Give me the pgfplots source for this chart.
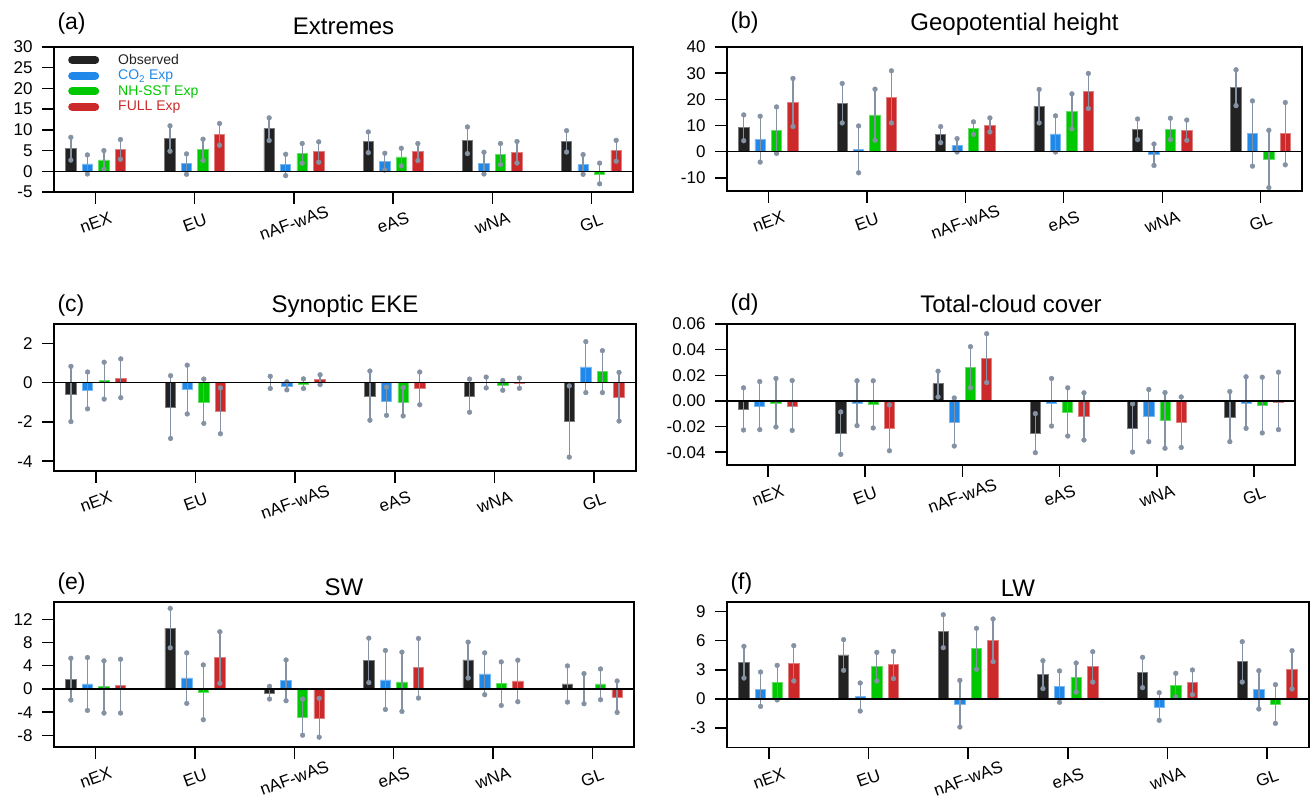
\documentclass[border=0pt]{standalone}
\usepackage{fontspec}
\setmainfont{Liberation Sans}
\usepackage{pgfplots}
\pgfplotsset{compat=1.18}
\definecolor{cK}{HTML}{222222}
\definecolor{cB}{HTML}{1F88E8}
\definecolor{cG}{HTML}{00C800}
\definecolor{cR}{HTML}{CC2A2A}
\definecolor{cE}{HTML}{8492A4}
\newcommand{\tfont}{\fontsize{24bp}{27bp}\selectfont}
\newcommand{\lfont}{\fontsize{23bp}{26bp}\selectfont}
\pgfplotsset{
  panel/.style={
    scale only axis, xmin=-0.42, xmax=5.42,
    xtick={0,1,2,3,4,5}, xticklabels={nEX,EU,nAF-wAS,eAS,wNA,GL},
    xtick pos=bottom, ytick pos=left, tick align=outside,
    major tick length=12bp,
    every tick/.style={black, line width=1.4bp},
    axis line style={line width=1.8bp},
    /pgf/number format/assume math mode=true,
    yticklabel style={font=\fontsize{17bp}{20bp}\selectfont, xshift=-6bp},
    xticklabel style={font=\fontsize{17bp}{20bp}\selectfont, anchor=center, yshift=-19bp, rotate=20},
  },
  errs/.style={/pgfplots/error bars/.cd, y dir=both, y explicit,
    error bar style={cE, line width=1.3bp}, error mark=*,
    error mark options={cE, fill=cE, mark size=2.4bp}},
  sK/.style={/pgfplots/legend image code/.code={\draw[line width=8bp, line cap=round, cK] (0bp,0bp) -- (23bp,0bp);},
    ybar, bar width=0.105, bar shift=0, fill=cK, draw=cK!60!white, line width=0.8bp, errs},
  sB/.style={/pgfplots/legend image code/.code={\draw[line width=8bp, line cap=round, cB] (0bp,0bp) -- (23bp,0bp);},
    ybar, bar width=0.105, bar shift=0, fill=cB, draw=cB!60!white, line width=0.8bp, errs},
  sG/.style={/pgfplots/legend image code/.code={\draw[line width=8bp, line cap=round, cG] (0bp,0bp) -- (23bp,0bp);},
    ybar, bar width=0.105, bar shift=0, fill=cG, draw=cG!60!white, line width=0.8bp, errs},
  sR/.style={/pgfplots/legend image code/.code={\draw[line width=8bp, line cap=round, cR] (0bp,0bp) -- (23bp,0bp);},
    ybar, bar width=0.105, bar shift=0, fill=cR, draw=cR!60!white, line width=0.8bp, errs},
  table/tK/.style={x expr=\coordindex-0.25, y index=0, y error plus index=1, y error minus index=2, header=false},
  table/tB/.style={x expr=\coordindex-0.0833, y index=0, y error plus index=1, y error minus index=2, header=false},
  table/tG/.style={x expr=\coordindex+0.0833, y index=0, y error plus index=1, y error minus index=2, header=false},
  table/tR/.style={x expr=\coordindex+0.25, y index=0, y error plus index=1, y error minus index=2, header=false},
}
\begin{document}
\begin{tikzpicture}
\useasboundingbox (0bp,0bp) rectangle (1310bp,797bp);

% ---------------- (a) Extremes   columns: value, plus, minus
\begin{axis}[panel, name=a, at={(54bp,605bp)}, anchor=south west, width=579bp, height=145bp,
  ymin=-5, ymax=30, ytick={-5,0,5,10,15,20,25,30},
  legend cell align=left,
  legend style={at={(0,1)}, anchor=north west, xshift=14bp, yshift=-7bp, draw=none, fill=none,
    inner sep=0pt, row sep=4.3bp, column sep=19bp, font=\fontsize{14bp}{16bp}\selectfont,
    nodes={inner sep=0pt}}]
\addplot[sK] table[tK] {
5.56 2.64 2.86
7.98 2.99 3.14
10.24 2.66 2.82
7.1 2.4 2.6
7.42 3.28 3.15
7.2 2.6 2.55
};
\addlegendentry{\textcolor{cK}{Observed}}
\addplot[sB] table[tB] {
1.77 2.18 2.42
1.85 2.34 2.58
1.6 2.5 2.65
2.34 2.01 2.04
1.94 2.66 2.59
1.6 2.43 2.33
};
\addlegendentry{\textcolor{cB}{CO\textsubscript{2} Exp}}
\addplot[sG] table[tG] {
2.74 2.26 2.26
5.24 2.5 2.66
4.35 2.35 2.41
3.47 2.09 2.17
4.03 2.67 2.43
-0.65 2.62 2.38
};
\addlegendentry{\textcolor{cG}{NH-SST Exp}}
\addplot[sR] table[tR] {
5.24 2.42 2.34
8.87 2.66 2.58
4.68 2.42 2.5
4.68 2.02 2.1
4.44 2.76 2.44
4.92 2.55 2.5
};
\addlegendentry{\textcolor{cR}{FULL Exp}}
\draw[black, line width=1.3bp] (axis cs:-0.42,0) -- (axis cs:5.42,0);
\end{axis}
\node[anchor=base west, font=\lfont] at ([yshift=17bp]a.north west) {(a)};
\node[anchor=base, font=\tfont] at ([yshift=12bp]a.north) {Extremes};

% ---------------- (b) Geopotential height
\begin{axis}[panel, name=b, at={(727bp,606bp)}, anchor=south west, width=575bp, height=144bp,
  ymin=-15, ymax=40, ytick={-10,0,10,20,30,40}]
\addplot[sK] table[tK] {
9.33 4.73 5.13
18.5 7.57 7.5
6.5 3.1 3.05
17.4 6.4 6.4
8.56 3.94 3.96
24.5 6.8 6.9
};
\addplot[sB] table[tB] {
4.73 8.82 8.69
0.9 8.94 8.95
2.43 2.57 2.53
6.77 6.93 6.87
-1.15 4.09 4.09
6.9 12.5 12.4
};
\addplot[sG] table[tG] {
8.18 8.92 8.82
14.06 9.84 9.71
8.95 2.45 2.3
15.3 6.8 6.6
8.56 4.24 3.96
-3.07 11.25 10.63
};
\addplot[sR] table[tR] {
18.9 9.1 9.3
20.8 10.1 9.8
10.1 2.8 2.56
23.1 6.8 6.6
8.18 3.92 3.83
6.9 11.9 11.9
};
\draw[black, line width=1.3bp] (axis cs:-0.42,0) -- (axis cs:5.42,0);
\end{axis}
\node[anchor=base west, font=\lfont] at ([yshift=18.5bp]b.north west) {(b)};
\node[anchor=base, font=\tfont] at ([yshift=16bp]b.north) {Geopotential height};

% ---------------- (c) Synoptic EKE
\begin{axis}[panel, name=c, at={(54bp,326bp)}, anchor=south west, width=582bp, height=147bp,
  ymin=-4.5, ymax=3, ytick={-4,-2,0,2}]
\addplot[sK] table[tK] {
-0.59 1.43 1.39
-1.24 1.6 1.6
0.02 0.31 0.31
-0.67 1.27 1.24
-0.69 0.88 0.81
-1.98 1.82 1.81
};
\addplot[sB] table[tB] {
-0.41 0.96 0.92
-0.36 1.26 1.23
-0.16 0.21 0.2
-0.97 0.75 0.69
0.03 0.26 0.29
0.81 1.29 1.31
};
\addplot[sG] table[tG] {
0.1 0.95 0.93
-0.98 1.17 1.09
-0.09 0.29 0.2
-1.0 0.76 0.69
-0.12 0.24 0.26
0.57 1.07 1.07
};
\addplot[sR] table[tR] {
0.24 0.98 1.0
-1.47 1.21 1.13
0.16 0.25 0.25
-0.31 0.86 0.81
-0.05 0.29 0.23
-0.74 1.27 1.21
};
\draw[black, line width=1.3bp] (axis cs:-0.42,0) -- (axis cs:5.42,0);
\end{axis}
\node[anchor=base west, font=\lfont] at ([yshift=12bp]c.north west) {(c)};
\node[anchor=base, font=\tfont] at ([yshift=11bp]c.north) {Synoptic EKE};

% ---------------- (d) Total-cloud cover
\begin{axis}[panel, name=d, at={(727bp,332bp)}, anchor=south west, width=568bp, height=141bp,
  ymin=-0.05, ymax=0.06, ytick={-0.04,-0.02,0,0.02,0.04,0.06}, scaled y ticks=false,
  /pgf/number format/fixed, /pgf/number format/fixed zerofill, /pgf/number format/precision=2]
\addplot[sK] table[tK] {
-0.0065 0.0167 0.0162
-0.0253 0.0167 0.0164
0.0133 0.0099 0.0102
-0.0253 0.0154 0.0151
-0.0211 0.0188 0.0188
-0.0125 0.0198 0.0193
};
\addplot[sB] table[tB] {
-0.0039 0.019 0.0185
-0.0023 0.018 0.017
-0.017 0.0193 0.0182
-0.0016 0.0191 0.018
-0.0117 0.0206 0.0201
-0.0016 0.0204 0.0198
};
\addplot[sG] table[tG] {
-0.0018 0.0193 0.0185
-0.0031 0.0188 0.018
0.0258 0.0165 0.0156
-0.0089 0.0191 0.0185
-0.0154 0.0219 0.0216
-0.0034 0.0219 0.0216
};
\addplot[sR] table[tR] {
-0.0039 0.0198 0.0191
-0.0214 0.0183 0.0175
0.0334 0.019 0.0191
-0.0123 0.0186 0.0182
-0.0167 0.0198 0.0196
-0.0008 0.0232 0.0216
};
\draw[black, line width=1.3bp] (axis cs:-0.42,0) -- (axis cs:5.42,0);
\end{axis}
\node[anchor=base west, font=\lfont] at ([yshift=13bp]d.north west) {(d)};
\node[anchor=base, font=\tfont] at ([yshift=11bp]d.north) {Total-cloud cover};

% ---------------- (e) SW
\begin{axis}[panel, name=e, at={(54bp,50bp)}, anchor=south west, width=580bp, height=145bp,
  ymin=-10, ymax=15, ytick={-8,-4,0,4,8,12}]
\addplot[sK] table[tK] {
1.67 3.63 3.57
10.5 3.4 3.4
-0.69 1.15 1.04
4.96 3.81 3.86
5.0 3.08 3.1
0.87 3.11 3.12
};
\addplot[sB] table[tB] {
0.87 4.55 4.56
1.9 4.33 4.38
1.5 3.5 3.52
1.56 5.08 5.08
2.6 3.63 3.58
0.12 2.53 2.66
};
\addplot[sG] table[tG] {
0.4 4.45 4.55
-0.63 4.78 4.67
-4.9 3.17 3.06
1.21 5.14 5.08
0.92 3.75 3.75
0.87 2.59 2.72
};
\addplot[sR] table[tR] {
0.58 4.56 4.73
5.48 4.39 4.5
-5.0 3.4 3.3
3.64 5.07 5.2
1.38 3.58 3.57
-1.38 2.76 2.66
};
\draw[black, line width=1.3bp] (axis cs:-0.42,0) -- (axis cs:5.42,0);
\end{axis}
\node[anchor=base west, font=\lfont] at ([yshift=12bp]e.north west) {(e)};
\node[anchor=base, font=\tfont] at ([yshift=6bp]e.north) {SW};

% ---------------- (f) LW
\begin{axis}[panel, name=f, at={(727bp,49.5bp)}, anchor=south west, width=582bp, height=145.5bp,
  ymin=-5, ymax=10, ytick={-3,0,3,6,9}]
\addplot[sK] table[tK] {
3.81 1.62 1.65
4.54 1.58 1.58
6.98 1.71 1.69
2.51 1.44 1.44
2.75 1.55 1.58
3.85 2.06 2.1
};
\addplot[sB] table[tB] {
1.03 1.75 1.79
0.24 1.41 1.48
-0.52 2.44 2.37
1.31 1.58 1.65
-0.82 1.47 1.38
0.96 1.96 1.99
};
\addplot[sG] table[tG] {
1.72 1.75 1.82
3.33 1.48 1.47
5.19 2.1 2.13
2.2 1.51 1.48
1.41 1.24 1.2
-0.58 2.06 1.93
};
\addplot[sR] table[tR] {
3.71 1.79 1.85
3.54 1.37 1.44
6.08 2.17 2.23
3.33 1.55 1.58
1.72 1.27 1.27
3.02 1.96 1.99
};
\draw[black, line width=1.3bp] (axis cs:-0.42,0) -- (axis cs:5.42,0);
\end{axis}
\node[anchor=base west, font=\lfont] at ([yshift=12bp]f.north west) {(f)};
\node[anchor=base, font=\tfont] at ([yshift=5.5bp]f.north) {LW};
\end{tikzpicture}
\end{document}
